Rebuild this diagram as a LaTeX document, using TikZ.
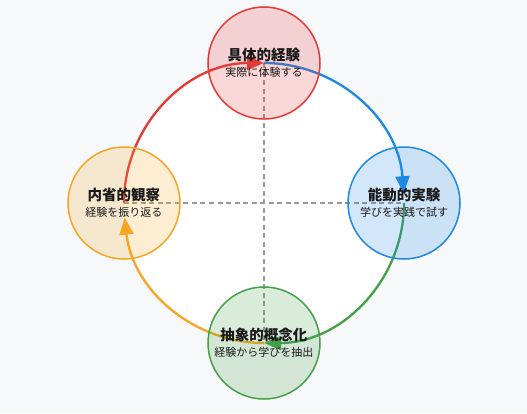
\documentclass[tikz,border=0pt]{standalone}
\usepackage{fontspec}
\setmainfont{Noto Sans CJK JP}
\usetikzlibrary{arrows.meta,backgrounds}

\definecolor{pagebg}{HTML}{F7F8FA}
\definecolor{expred}{HTML}{E53935}
\definecolor{actblue}{HTML}{1E88E5}
\definecolor{absgreen}{HTML}{43A047}
\definecolor{refor}{HTML}{F6A623}
\definecolor{axisgray}{HTML}{999999}

\tikzset{
  stage/.style={circle,minimum size=112pt,inner sep=0pt,line width=1.5pt,
                align=center,fill opacity=0.2,text opacity=1,text=black!90},
  cycle/.style={line width=2.3pt},
  axis/.style={axisgray,line width=1.4pt,dash pattern=on 5pt off 3.5pt}
}
\newcommand{\stagetext}[2]{{\fontsize{14.5}{16}\selectfont\bfseries #1}\\[4pt]{\fontsize{11}{12}\selectfont #2}}

\begin{document}
\begin{tikzpicture}[x=1pt,y=1pt,>={Triangle[length=17pt,width=14pt]}]
  \useasboundingbox (-264,-210) rectangle (263,203);

  \coordinate (hub) at (0,0);

  \node[stage,draw=expred,fill=expred]     (conc) at (0,140)  {\stagetext{具体的経験}{実際に体験する}};
  \node[stage,draw=actblue,fill=actblue]   (act)  at (140,0)  {\stagetext{能動的実験}{学びを実践で試す}};
  \node[stage,draw=absgreen,fill=absgreen] (abst) at (0,-140) {\stagetext{抽象的概念化}{経験から学びを抽出}};
  \node[stage,draw=refor,fill=refor]       (refl) at (-140,0) {\stagetext{内省的観察}{経験を振り返る}};

  \begin{scope}[on background layer]
    \fill[pagebg] (-264,-210) rectangle (263,203);
    \fill[white] (hub) circle (140);
    % axes through the hub
    \draw[axis] (refl.center) -- (act.center);
    \draw[axis] (conc.center) -- (abst.center);
    % the learning cycle
    \draw[cycle,expred,->]   (refl.center) arc[start angle=180,end angle=90,radius=140];
    \draw[cycle,actblue,->]  (conc.center) arc[start angle=90,end angle=4,radius=140];
    \draw[cycle,absgreen,->] (act.center)  arc[start angle=0,end angle=-90,radius=140];
    \draw[cycle,refor,->]    (abst.center) arc[start angle=-90,end angle=-174,radius=140];
  \end{scope}
\end{tikzpicture}
\end{document}
